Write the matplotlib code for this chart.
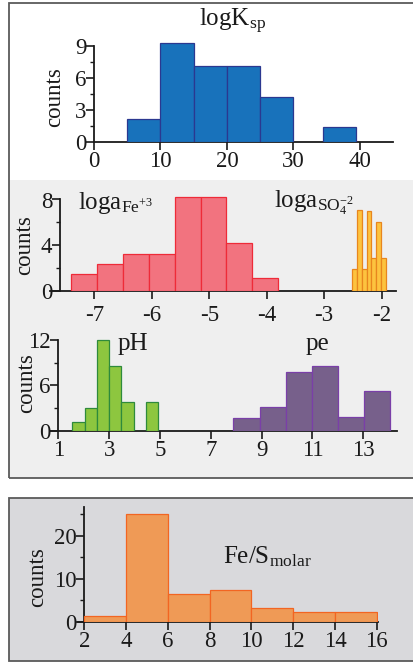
import matplotlib
matplotlib.use("Agg")
import matplotlib.pyplot as plt
from matplotlib.patches import Rectangle
from matplotlib.ticker import FixedLocator
import numpy as np

# ---------------- data ----------------
ksp_left = [5, 10, 15, 20, 25, 34.5]
ksp_width = [5, 5, 5, 5, 5, 5]
ksp_counts = [2.1, 9.3, 7.15, 7.1, 4.25, 1.4]

fe_edges = [-7.40, -6.95, -6.50, -6.05, -5.60, -5.15, -4.70, -4.25, -3.80]
fe_counts = [1.5, 2.3, 3.25, 3.25, 8.2, 8.2, 4.15, 1.15]

so4_edges = [-2.51, -2.43, -2.34, -2.26, -2.18, -2.10, -2.01, -1.93]
so4_counts = [1.9, 7.1, 1.9, 7.0, 2.85, 6.0, 2.85]

ph_edges = [1.54, 2.03, 2.51, 3.00, 3.48, 3.97, 4.45, 4.94]
ph_counts = [1.2, 3.0, 12.0, 8.6, 3.85, 0, 3.85]

pe_edges = [7.89, 8.92, 9.95, 10.98, 12.01, 13.04, 14.07]
pe_counts = [1.7, 3.2, 7.7, 8.6, 1.8, 5.3]

fes_edges = [2, 4, 6, 8, 10, 12, 14, 16]
fes_counts = [1.3, 25.1, 6.35, 7.4, 3.2, 2.25, 2.25]

ksp_xticks = [0, 10, 20, 30, 40]
ksp_yticks = [0, 3, 6, 9]
fe_xticks = [-7, -6, -5, -4, -3, -2]
fe_yticks = [0, 4, 8]
ph_xticks = [1, 3, 5, 7, 9, 11, 13]
ph_yticks = [0, 6, 12]
fes_xticks = [2, 4, 6, 8, 10, 12, 14, 16]
fes_yticks = [0, 10, 20]

# ---------------- style ----------------
plt.rcParams['font.family'] = ['Liberation Serif', 'DejaVu Serif']
plt.rcParams['mathtext.fontset'] = 'custom'
plt.rcParams['mathtext.rm'] = 'Liberation Serif'
plt.rcParams['mathtext.it'] = 'Liberation Serif:italic'

W, H = 414, 663
fig = plt.figure(figsize=(W / 100, H / 100), dpi=100)
fig.patch.set_facecolor('white')

TICK_FS = 16.5
LAB_FS = 16.5
TITLE_FS = 18
TXT = '#1a1a1a'


def fr(x0, y0, x1, y1, **kw):
    r = Rectangle((x0 / W, 1 - y1 / H), (x1 - x0) / W, (y1 - y0) / H,
                  transform=fig.transFigure, **kw)
    fig.patches.append(r)


# backgrounds / frames
fr(9, 180, 420, 478, facecolor='#efefef', edgecolor='none', zorder=-3)
fr(9, 3, 420, 478, facecolor='none', edgecolor='#5a5a5a', linewidth=1.3, zorder=-2)
fr(9, 497.5, 420, 661, facecolor='#d9d9dc', edgecolor='#5a5a5a', linewidth=1.3, zorder=-2)


def make_ax(l, r, t, b):
    ax = fig.add_axes([l / W, 1 - b / H, (r - l) / W, (b - t) / H])
    ax.patch.set_alpha(0)
    for s in ['top', 'right']:
        ax.spines[s].set_visible(False)
    for s in ['left', 'bottom']:
        ax.spines[s].set_linewidth(1.3)
        ax.spines[s].set_color('#1a1a1a')
    ax.tick_params(which='major', length=5.5, width=1.2, labelsize=TICK_FS,
                   colors='#1a1a1a', labelcolor=TXT)
    ax.tick_params(which='minor', length=3, width=1.0, colors='#1a1a1a')
    return ax


def ylab(ax, xpx, ypx):
    ax.set_ylabel('counts', fontsize=LAB_FS, color=TXT)
    ax.yaxis.set_label_coords(xpx / W, 1 - ypx / H, transform=fig.transFigure)
    ax.yaxis.label.set_va('center')


# ---------------- panel 1: logKsp ----------------
ax1 = make_ax(94, 393, 141.7 - 106.3, 141.7)
ax1.bar(ksp_left, ksp_counts, width=ksp_width, align='edge',
        color='#1872bb', edgecolor='#2b3890', linewidth=0.9, zorder=3)
ax1.set_xlim(0, 45)
ax1.set_ylim(0, 10)
ax1.spines['left'].set_bounds(0, 9)
ax1.set_xticks(ksp_xticks)
ax1.set_yticks(ksp_yticks)
ax1.yaxis.set_minor_locator(FixedLocator([1.5, 4.5, 7.5]))
ax1.tick_params(axis='x', pad=1)
ax1.tick_params(axis='y', pad=0)
ylab(ax1, 55, 97)
fig.text(233 / W, 1 - 21 / H, r'$\mathregular{logK_{sp}}$', fontsize=TITLE_FS,
         ha='center', va='center', color=TXT)

# ---------------- panel 2: loga Fe / SO4 ----------------
ax2 = make_ax(50, 396, 290.7 - 8.6 * 11.4, 290.7)
ax2.bar(fe_edges[:-1], fe_counts, width=np.diff(fe_edges), align='edge',
        color='#f2737f', edgecolor='#ee2b38', linewidth=0.9, zorder=3)
ax2.bar(so4_edges[:-1], so4_counts, width=np.diff(so4_edges), align='edge',
        color='#fdc33f', edgecolor='#e8861e', linewidth=0.9, zorder=3)
ax2.set_xlim(-7.77, -1.75)
ax2.set_ylim(0, 8.6)
ax2.spines['left'].set_position(('data', -7.6))
ax2.spines['left'].set_bounds(0, 8)
ax2.set_xticks(fe_xticks)
ax2.set_xticklabels([str(v) for v in fe_xticks])
ax2.set_yticks(fe_yticks)
ax2.yaxis.set_minor_locator(FixedLocator([2, 6]))
ax2.tick_params(axis='x', pad=5)
ax2.tick_params(axis='y', pad=0)
ylab(ax2, 25, 245)
fig.text(78 / W, 1 - 203 / H, r'$\mathregular{loga_{Fe^{+3}}}$', fontsize=TITLE_FS,
         ha='left', va='center', color=TXT)
fig.text(274 / W, 1 - 203 / H, r'$\mathregular{loga_{SO_4^{-2}}}$', fontsize=TITLE_FS,
         ha='left', va='center', color=TXT)

# ---------------- panel 3: pH / pe ----------------
ax3 = make_ax(50, 396.7, 430.7 - 12.8 * 7.56, 430.7)
ax3.bar(ph_edges[:-1], ph_counts, width=np.diff(ph_edges), align='edge',
        color='#8dc63f', edgecolor='#2e8a3c', linewidth=0.9, zorder=3)
ax3.bar(pe_edges[:-1], pe_counts, width=np.diff(pe_edges), align='edge',
        color='#77608b', edgecolor='#7a3fa8', linewidth=0.9, zorder=3)
ax3.set_xlim(0.67, 14.32)
ax3.set_ylim(0, 12.8)
ax3.spines['left'].set_position(('data', 1))
ax3.spines['left'].set_bounds(0, 12)
ax3.set_xticks(ph_xticks)
ax3.set_yticks(ph_yticks)
ax3.yaxis.set_minor_locator(FixedLocator([3, 9]))
ax3.tick_params(axis='x', pad=1)
ax3.tick_params(axis='y', pad=0)
ylab(ax3, 27, 383)
fig.text(133 / W, 1 - 344 / H, 'pH', fontsize=TITLE_FS, ha='center', va='center', color=TXT)
fig.text(317 / W, 1 - 344 / H, 'pe', fontsize=TITLE_FS, ha='center', va='center', color=TXT)

# ---------------- panel 4: Fe/S molar ----------------
ax4 = make_ax(78.3, 378.3, 621.7 - 27 * 4.3, 621.7)
ax4.bar(fes_edges[:-1], fes_counts, width=np.diff(fes_edges), align='edge',
        color='#ef9a56', edgecolor='#f26522', linewidth=0.9, zorder=3)
ax4.set_xlim(1.71, 16.07)
ax4.set_ylim(0, 27)
ax4.spines['left'].set_position(('data', 2))
ax4.spines['left'].set_bounds(0, 26.7)
ax4.set_xticks(fes_xticks)
ax4.set_yticks(fes_yticks)
ax4.yaxis.set_minor_locator(FixedLocator([5, 15, 25]))
ax4.tick_params(axis='x', pad=1)
ax4.tick_params(axis='y', pad=0)
ylab(ax4, 38, 577)
fig.text(223 / W, 1 - 557 / H, r'$\mathregular{Fe/S_{molar}}$', fontsize=TITLE_FS,
         ha='left', va='center', color=TXT)

fig.savefig('out.png', dpi=100)
